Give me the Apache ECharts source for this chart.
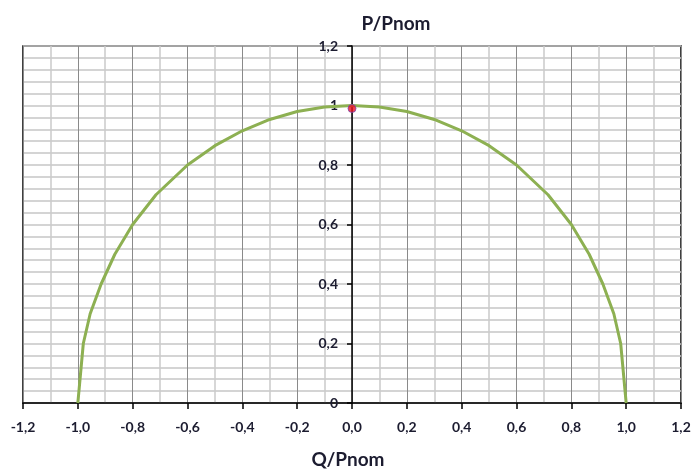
<!DOCTYPE html>
<html><head><meta charset="utf-8">
<script src="https://cdn.jsdelivr.net/npm/echarts@6/dist/echarts.min.js"></script>
<style>html,body{margin:0;padding:0;background:#fff}#c{width:698px;height:471px}</style>
</head><body><div id="c"></div>
<script>
// Capability curve (Q/Pnom, P/Pnom)
const qValues = [-1.0, -0.98, -0.955, -0.915, -0.865, -0.8, -0.715, -0.6, -0.5, -0.4, -0.3, -0.2, -0.1, 0.0,
                 0.1, 0.2, 0.3, 0.4, 0.5, 0.6, 0.715, 0.8, 0.865, 0.915, 0.955, 0.98, 1.0];
const pValues = [0, 0.2, 0.3, 0.4, 0.5, 0.6, 0.7, 0.8, 0.865, 0.915, 0.953, 0.98, 0.995, 1.0,
                 0.995, 0.98, 0.953, 0.915, 0.865, 0.8, 0.7, 0.6, 0.5, 0.4, 0.3, 0.2, 0];
const pointQ = [0.0];
const pointP = [0.99];
const xTickLabels = ['-1,2','-1,0','-0,8','-0,6','-0,4','-0,2','0,0','0,2','0,4','0,6','0,8','1,0','1,2'];
const yTickLabels = ['0','0,2','0,4','0,6','0,8','1','1,2'];
const xTitle = 'Q/Pnom';
const yTitle = 'P/Pnom';

const curve = qValues.map((q, i) => [q, pValues[i]]);
const marker = pointQ.map((q, i) => [q, pointP[i]]);
const lblFont = {fontFamily: 'Lato, "Open Sans", sans-serif', fontSize: 14, fontWeight: 'bold', color: '#1c1c30'};
const ttlFont = {fontFamily: 'Lato, "Open Sans", sans-serif', fontSize: 19, fontWeight: 'bold', color: '#1c1c30'};

const GL = 23, GR = 17, W = 698;
const zeroOffset = -((W - GL - GR) / 2);

const chart = echarts.init(document.getElementById('c'), null, {renderer: 'canvas'});
chart.setOption({
  animation: false,
  backgroundColor: '#ffffff',
  title: [
    {text: yTitle, left: 396, top: 14, textAlign: 'center', padding: 0, textStyle: ttlFont},
    {text: xTitle, left: 348, top: 450, textAlign: 'center', padding: 0, textStyle: ttlFont}
  ],
  grid: {left: GL, right: GR, top: 46, bottom: 68, outerBoundsMode: 'none', containLabel: false,
         show: true, borderColor: '#000', borderWidth: 1.5, backgroundColor: 'transparent'},
  xAxis: {
    type: 'value', min: -1.2, max: 1.2, interval: 0.2, position: 'bottom',
    axisLine: {onZero: false, lineStyle: {color: '#000', width: 1.5}},
    axisTick: {show: true, inside: false, length: 6, lineStyle: {color: '#000', width: 1.5}},
    axisLabel: Object.assign({margin: 17, formatter: (v) => {
      const i = Math.round((v + 1.2) / 0.2); return xTickLabels[i] ?? '';
    }}, lblFont),
    splitLine: {show: true, lineStyle: {color: '#8a8a8a', width: 1}},
    minorTick: {show: false, splitNumber: 2},
    minorSplitLine: {show: true, lineStyle: {color: '#cacaca', width: 1.5}}
  },
  yAxis: {
    type: 'value', min: 0, max: 1.2, interval: 0.2, position: 'left', offset: zeroOffset,
    axisLine: {onZero: false, lineStyle: {color: '#000', width: 1.5}},
    axisTick: {show: true, inside: false, length: 5, lineStyle: {color: '#000', width: 1.5}},
    axisLabel: Object.assign({margin: 14, formatter: (v) => {
      const i = Math.round(v / 0.2); return yTickLabels[i] ?? '';
    }}, lblFont),
    splitLine: {show: true, lineStyle: {color: '#c6c6c6', width: 1.5}},
    minorTick: {show: false, splitNumber: 5},
    minorSplitLine: {show: true, lineStyle: {color: '#c6c6c6', width: 1.5}}
  },
  series: [
    {type: 'line', data: curve, showSymbol: false, smooth: false,
     lineStyle: {color: '#8db052', width: 3}, z: 3},
    {type: 'scatter', data: marker, symbol: 'circle', symbolSize: 8,
     itemStyle: {color: '#ee1122', borderColor: '#7a4ab0', borderWidth: 1}, z: 4}
  ]
});
</script>
</body></html>
